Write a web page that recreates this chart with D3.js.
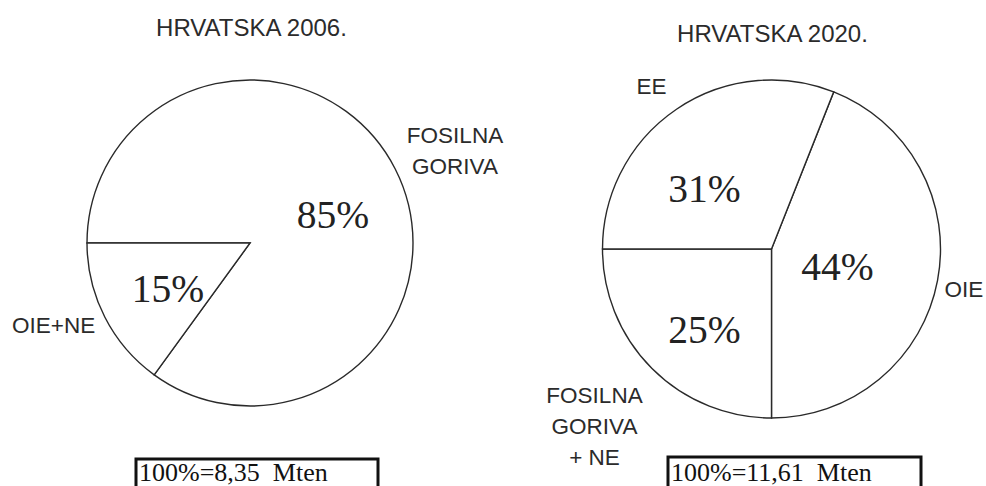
<!DOCTYPE html>
<html>
<head>
<meta charset="utf-8">
<script src="https://cdn.jsdelivr.net/npm/d3@7"></script>
<style>
  html, body { margin: 0; padding: 0; background: #fff; }
  svg { display: block; }
</style>
</head>
<body>
<svg id="chart" width="986" height="486"></svg>
<script>
// ---- data ----
const titles = ["HRVATSKA 2006.", "HRVATSKA 2020."];
const categories2006 = ["FOSILNA GORIVA", "OIE+NE"];
const values2006 = [85, 15];
const categories2020 = ["OIE", "FOSILNA GORIVA + NE", "EE"];
const values2020 = [44, 25, 31];
const totals = ["100%=8,35  Mten", "100%=11,61  Mten"];

// ---- layout ----
const svg = d3.select("#chart");
const sans = "'Liberation Sans', Arial, sans-serif";
const serif = "'Liberation Serif', 'Times New Roman', serif";
const textColor = "#2b2b2b";

const labelLines = {
  "FOSILNA GORIVA": ["FOSILNA", "GORIVA"],
  "OIE+NE": ["OIE+NE"],
  "OIE": ["OIE"],
  "FOSILNA GORIVA + NE": ["FOSILNA", "GORIVA", "+ NE"],
  "EE": ["EE"]
};

const pies = [
  {
    title: titles[0], cats: categories2006, vals: values2006, total: totals[0],
    cx: 250, cy: 243, r: 163, start: -Math.PI / 2,
    titlePos: [251.5, 36],
    pctPos: [[83, -15], [-82, 59]],
    labelPos: [[205, -100], [-238, 90]],
    labelAnchor: ["middle", "start"],
    box: [136, 459, 242]
  },
  {
    title: titles[1], cats: categories2020, vals: values2020, total: totals[1],
    cx: 771.5, cy: 249, r: 169, start: 2 * Math.PI * 0.06,
    titlePos: [772.5, 42],
    pctPos: [[66, 31], [-67, 94], [-67, -47]],
    labelPos: [[173, 48], [-177, 154], [-135, -155]],
    labelAnchor: ["start", "middle", "start"],
    box: [668, 457, 253]
  }
];

pies.forEach(p => {
  const pie = d3.pie().sort(null).value(d => d)
    .startAngle(p.start).endAngle(p.start + 2 * Math.PI);
  const arcs = pie(p.vals);
  const arc = d3.arc().innerRadius(0).outerRadius(p.r);
  const g = svg.append("g").attr("transform", `translate(${p.cx},${p.cy})`);

  g.selectAll("path").data(arcs).join("path")
    .attr("d", arc)
    .attr("fill", "#fff")
    .attr("stroke", "#2a2a2a")
    .attr("stroke-width", 1.4)
    .attr("stroke-linejoin", "miter");

  // percentages
  g.selectAll("text.pct").data(arcs).join("text")
    .attr("class", "pct")
    .attr("x", (d, i) => p.pctPos[i][0])
    .attr("y", (d, i) => p.pctPos[i][1])
    .attr("text-anchor", "middle")
    .attr("font-family", serif)
    .attr("font-size", 39.5)
    .attr("fill", "#222")
    .text(d => d.data + "%");

  // category labels
  p.cats.forEach((c, i) => {
    const lines = labelLines[c] || [c];
    const t = g.append("text")
      .attr("font-family", sans)
      .attr("font-size", 22.5)
      .attr("fill", textColor)
      .attr("text-anchor", p.labelAnchor[i]);
    lines.forEach((w, j) => {
      t.append("tspan")
        .attr("x", p.labelPos[i][0])
        .attr("y", p.labelPos[i][1] + j * 31)
        .text(w);
    });
  });

  // title
  svg.append("text")
    .attr("x", p.titlePos[0]).attr("y", p.titlePos[1])
    .attr("text-anchor", "middle")
    .attr("font-family", sans)
    .attr("font-size", 24)
    .attr("fill", textColor)
    .text(p.title);

  // total box
  svg.append("rect")
    .attr("x", p.box[0]).attr("y", p.box[1])
    .attr("width", p.box[2]).attr("height", 60)
    .attr("fill", "#fff")
    .attr("stroke", "#111")
    .attr("stroke-width", 3);
  svg.append("text")
    .attr("x", p.box[0] + 3).attr("y", 481)
    .attr("font-family", serif)
    .attr("font-size", 26)
    .attr("fill", "#111")
    .style("white-space", "pre")
    .text(p.total);
});
</script>
</body>
</html>
